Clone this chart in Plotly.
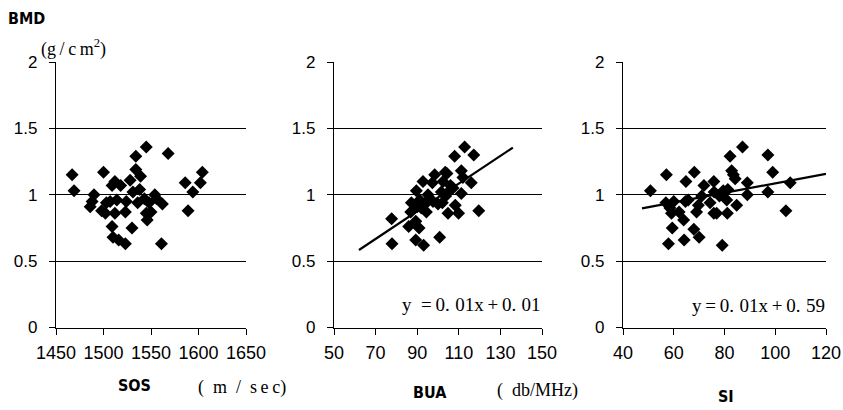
import plotly.graph_objects as go

# ---- data ----
sos = [1467, 1469, 1490, 1488, 1486, 1500, 1498, 1502, 1503, 1507, 1509, 1512, 1514, 1512,
       1509, 1510, 1516, 1523, 1518, 1523, 1524, 1528, 1530, 1531, 1534, 1534, 1536, 1538,
       1539, 1543, 1545, 1545, 1546, 1548, 1550, 1554, 1556, 1562, 1561, 1568, 1586, 1589,
       1594, 1602, 1604]
bmd_sos = [1.15, 1.03, 1.00, 0.95, 0.91, 1.17, 0.88, 0.86, 0.94, 0.95, 1.07, 1.10, 0.96, 0.86,
           0.76, 0.68, 0.66, 0.63, 1.07, 0.87, 0.95, 1.11, 0.75, 1.02, 1.29, 1.19, 0.94, 1.04,
           1.14, 0.97, 1.36, 0.86, 0.81, 0.94, 0.87, 1.00, 0.97, 0.93, 0.63, 1.31, 1.09, 0.88,
           1.02, 1.09, 1.17]

bua = [77.7, 77.9, 85.9, 87.2, 86.9, 89.6, 89.3, 90.9, 89.3, 93.1, 92.8, 91.2, 92.0, 94.4,
       95.2, 94.4, 97.3, 98.4, 97.6, 100.8, 101.6, 102.1, 102.4, 103.5, 104.3, 103.7, 104.8,
       106.0, 107.2, 108.0, 108.3, 109.9, 111.2, 111.2, 112.0, 112.8, 116.0, 117.2, 119.6,
       90.0, 93.5, 96.0, 100.0, 105.5]
bmd_bua = [0.82, 0.63, 0.76, 0.94, 0.87, 1.03, 0.80, 0.75, 0.66, 0.62, 1.10, 0.96, 0.90, 0.94,
           1.00, 0.87, 1.09, 1.15, 0.95, 0.68, 1.02, 0.94, 1.10, 1.17, 1.16, 0.99, 0.86,
           1.07, 1.05, 1.29, 0.92, 0.86, 1.01, 1.18, 1.13, 1.36, 1.09, 1.30, 0.88,
           0.91, 0.93, 0.97, 0.93, 1.03]

si = [50.8, 57.1, 56.9, 58.5, 59.1, 59.4, 57.9, 60.0, 62.1, 63.9, 64.1, 64.8, 64.6, 65.7,
      67.9, 68.1, 69.0, 70.0, 69.7, 71.0, 71.9, 74.3, 75.8, 75.8, 75.9, 76.9, 78.0, 79.1,
      79.5, 80.9, 81.1, 81.3, 82.2, 82.8, 83.5, 84.2, 84.8, 87.1, 89.0, 89.0, 97.1, 97.1,
      99.0, 104.2, 105.9]
bmd_si = [1.03, 1.15, 0.94, 0.90, 0.86, 0.75, 0.63, 0.95, 0.87, 0.81, 0.66, 1.10, 0.95, 0.96,
          0.74, 1.17, 0.87, 0.68, 0.92, 0.99, 1.07, 0.94, 1.10, 0.86, 1.02, 0.86, 0.99, 0.62,
          1.03, 0.96, 0.86, 1.04, 1.29, 1.18, 1.15, 1.12, 0.92, 1.36, 1.09, 1.00, 1.30, 1.02,
          1.17, 0.88, 1.09]

# fitted lines as drawn (slope, intercept, x range)
bua_fit = (0.01042, -0.062)
bua_fit_x = [62, 136]
si_fit = (0.00359, 0.727)
si_fit_x = [47.5, 120]

x_ranges = [[1450, 1650], [50, 150], [40, 120]]
x_dticks = [50, 20, 20]
y_ticks = [0, 0.5, 1, 1.5, 2]
y_ticktext = ["0", "0.5", "1", "1.5", "2"]
S = "\u2002"
T = "\u2009"
H = "\u200a"
eq_texts = ["y" + S + "=" + T + "0." + T + H + "01x" + T + "+" + T + "0." + T + H + "01",
            "y" + T + "=" + T + "0." + T + H + "01x" + T + "+" + T + "0." + T + H + "59"]

# ---- figure ----
fig = go.Figure()
xdoms = [[56/843, 246/843], [334/843, 542/843], [623/843, 826/843]]
ydom = [1 - 327.5/410, 1 - 62/410]

datasets = [(sos, bmd_sos), (bua, bmd_bua), (si, bmd_si)]
for i, (xs, ys) in enumerate(datasets):
    ax = "" if i == 0 else str(i + 1)
    fig.add_trace(go.Scatter(x=xs, y=ys, mode="markers", xaxis="x" + ax, yaxis="y" + ax,
                             marker=dict(symbol="diamond", size=10, color="black",
                                         line=dict(width=0)),
                             showlegend=False, hoverinfo="x+y"))

for i, (fit, fx) in enumerate([(bua_fit, bua_fit_x), (si_fit, si_fit_x)]):
    ax = str(i + 2)
    fy = [fit[0] * v + fit[1] for v in fx]
    fig.add_trace(go.Scatter(x=fx, y=fy, mode="lines", xaxis="x" + ax, yaxis="y" + ax,
                             line=dict(color="black", width=2.2), showlegend=False))

xtickfont = dict(family="Liberation Sans, Arial, sans-serif", size=18, color="black")
ytickfont = dict(family="Liberation Sans, Arial, sans-serif", size=17, color="black")
layout = dict(width=843, height=410, margin=dict(l=0, r=0, t=0, b=0),
              paper_bgcolor="white", plot_bgcolor="white", showlegend=False)
for i in range(3):
    ax = "" if i == 0 else str(i + 1)
    layout["xaxis" + ax] = dict(domain=xdoms[i], range=x_ranges[i], dtick=x_dticks[i],
                                tick0=x_ranges[i][0], anchor="y" + ax, automargin=False,
                                showgrid=False, zeroline=False, showline=True,
                                linecolor="black", linewidth=1.3, ticks="outside",
                                ticklen=6, tickcolor="black", tickwidth=1.3,
                                tickfont=xtickfont, ticklabelstandoff=3, fixedrange=True)
    layout["yaxis" + ax] = dict(domain=ydom, range=[0, 2], tickvals=y_ticks,
                                ticktext=y_ticktext, anchor="x" + ax, automargin=False,
                                showgrid=True, gridcolor="black", gridwidth=1.3,
                                zeroline=False, showline=True, linecolor="black",
                                linewidth=1.3, ticks="outside", ticklen=6,
                                tickcolor="black", tickwidth=1.3,
                                tickfont=ytickfont, ticklabelstandoff=8, fixedrange=True)
fig.update_layout(**layout)

serif = "Liberation Serif, DejaVu Serif, serif"
gothic = "DejaVu Sans Condensed, Liberation Sans Narrow, Liberation Sans, sans-serif"
ann = [
    dict(text="<b>BMD</b>", x=26/843, y=1 - 18.5/410, font=dict(family=gothic, size=16)),
    dict(text="(g" + T + "/" + T + "c" + T + "m<sup>2</sup>)", x=73/843, y=1 - 48/410,
         font=dict(family=serif, size=18)),
    dict(text="<b>SOS</b>", x=134/843, y=1 - 385/410, font=dict(family=gothic, size=16)),
    dict(text="(" + S + "m" + S + "/" + S + "s" + T + "e" + T + "c)", x=242/843, y=1 - 387/410,
         font=dict(family=serif, size=18)),
    dict(text="<b>BUA</b>", x=430/843, y=1 - 392/410, font=dict(family=gothic, size=16)),
    dict(text="(" + S + "db/MHz)", x=537/843, y=1 - 390/410, font=dict(family=serif, size=18)),
    dict(text="<b>SI</b>", x=726/843, y=1 - 396/410, font=dict(family=gothic, size=16)),
    dict(text=eq_texts[0], x=543/843, y=1 - 304/410, xanchor="right",
         font=dict(family=serif, size=19)),
    dict(text=eq_texts[1], x=827/843, y=1 - 305/410, xanchor="right",
         font=dict(family=serif, size=19)),
]
for a in ann:
    a.setdefault("xanchor", "center")
    a.update(xref="paper", yref="paper", showarrow=False, yanchor="middle")
    a["font"]["color"] = "black"
fig.update_layout(annotations=ann)

fig.write_html("out.html", config={"displayModeBar": False},
               post_script="document.body.style.margin='0';document.body.style.padding='0';"
                           "document.body.style.overflow='hidden';")
